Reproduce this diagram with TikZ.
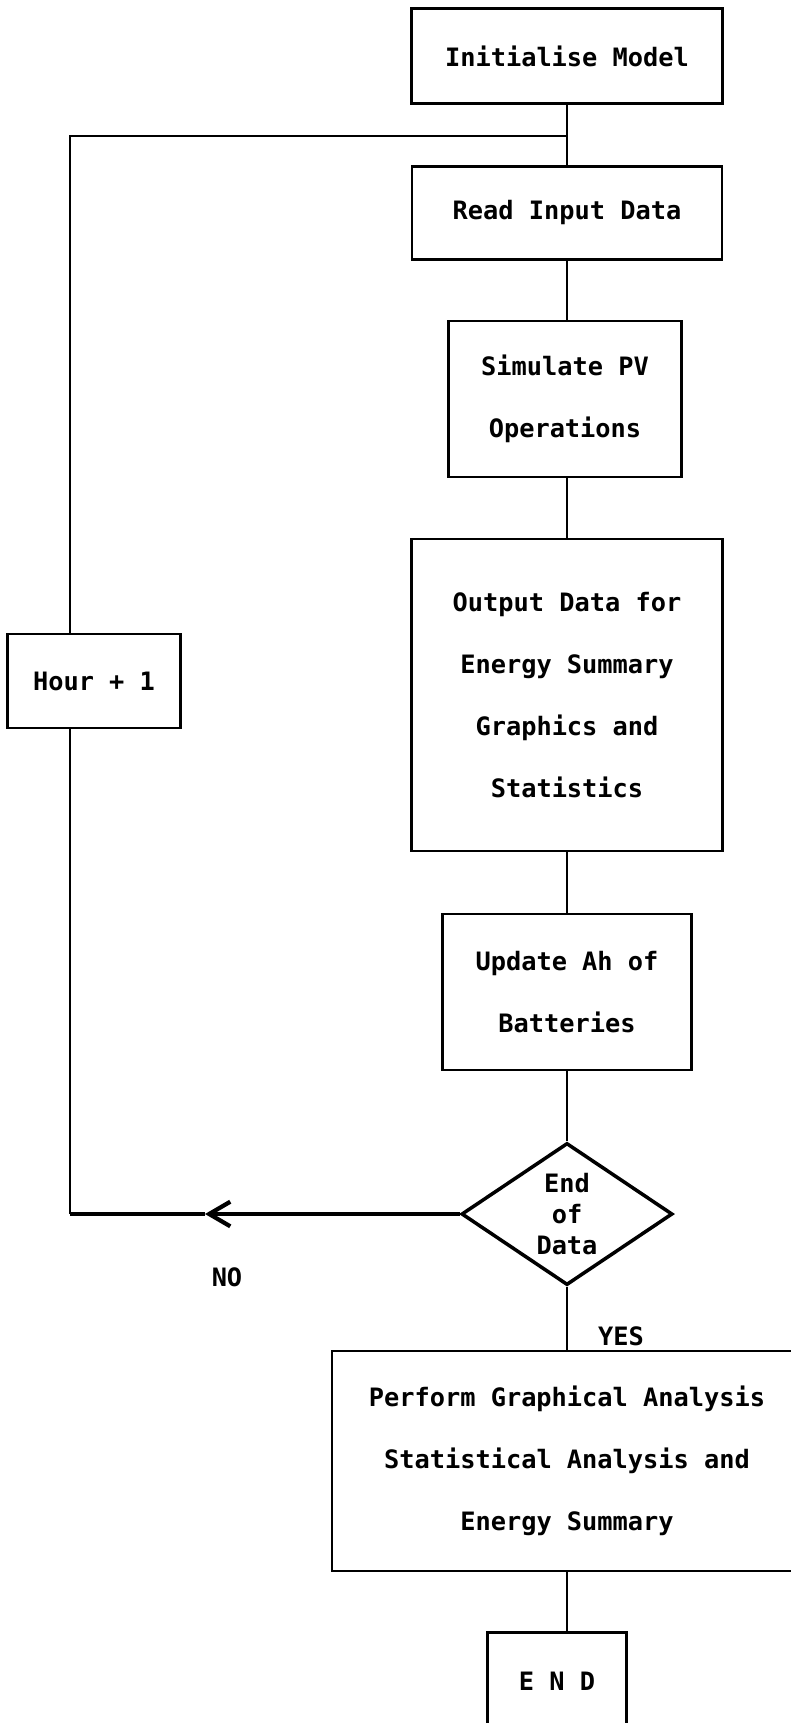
\documentclass[tikz,border=0pt]{standalone}
\usepackage{fontspec}
\setmonofont{DejaVu Sans Mono}
\usetikzlibrary{shapes.geometric, arrows.meta}

\begin{document}
\begin{tikzpicture}[x=0.01cm, y=-0.01cm,
  font=\ttfamily\bfseries\fontsize{7.2}{17.7}\selectfont,
  procbox/.style={draw, line width=0.75pt, align=center, inner sep=0pt},
  decision/.style={draw, diamond, line width=1pt, inner sep=0pt, aspect=1.49,
    minimum width=2.11cm, minimum height=1.42cm, align=center,
    font=\ttfamily\bfseries\fontsize{7.2}{8.8}\selectfont},
  flow/.style={line width=0.8pt},
  loopline/.style={line width=1pt}]

  \useasboundingbox (0,0) rectangle (791,1723);

  % ────────────────────────────────────────────────────────────────────
  % main chain of steps
  % ────────────────────────────────────────────────────────────────────
  \node[procbox, minimum width=3.11cm, minimum height=0.95cm] (init)
    at (567,56) {Initialise Model};
  \node[procbox, minimum width=3.10cm, minimum height=0.93cm] (read)
    at (567,213) {Read Input Data};
  \node[procbox, minimum width=2.33cm, minimum height=1.56cm] (simpv)
    at (565,399) {Simulate PV\\Operations};
  \node[procbox, minimum width=3.11cm, minimum height=3.12cm] (output)
    at (567,695) {Output Data for\\Energy Summary\\Graphics and\\Statistics};
  \node[procbox, minimum width=2.49cm, minimum height=1.56cm] (update)
    at (567,992) {Update Ah of\\Batteries};
  \node[decision] (enddata) at (567,1214) {End\\of\\Data};
  \node[procbox, minimum width=4.70cm, minimum height=2.20cm] (perform)
    at (567,1461) {Perform Graphical Analysis\\Statistical Analysis and\\Energy Summary};
  \node[procbox, minimum width=1.39cm, minimum height=0.97cm] (stop)
    at (557,1681) {E N D};

  % ── loop back: next hour ──
  \node[procbox, minimum width=1.73cm, minimum height=0.94cm] (hour)
    at (94,681) {Hour + 1};

  % labels of the decision
  \node (nolabel)  at (227,1277) {NO};
  \node (yeslabel) at (621,1336) {YES};

  % corners of the loop line
  \coordinate (join)     at (567,136);
  \coordinate (topleft)  at (70,136);
  \coordinate (botleft)  at (70,1214);
  \coordinate (notip)    at (205,1214);

  % ────────────────────────────────────────────────────────────────────
  % connectors
  % ────────────────────────────────────────────────────────────────────
  \draw[flow] (init) -- (read);
  \draw[flow] (read) -- (simpv.north -| read);
  \draw[flow] (simpv.south -| output) -- (output);
  \draw[flow] (output) -- (update);
  \draw[flow] (update) -- (enddata);
  \draw[flow] (enddata) -- (perform);
  \draw[flow] (perform.south -| join) -- (stop.north -| join);

  % NO branch back to the top
  \draw[loopline, -{Straight Barb[length=6pt, width=7pt, line width=1.2pt]}]
    (enddata) -- (notip);
  \draw[loopline] (notip) -- (botleft);
  \draw[flow] (botleft) -- (hour.south -| botleft);
  \draw[flow] (hour.north -| topleft) -- (topleft) -- (join);

\end{tikzpicture}
\end{document}
